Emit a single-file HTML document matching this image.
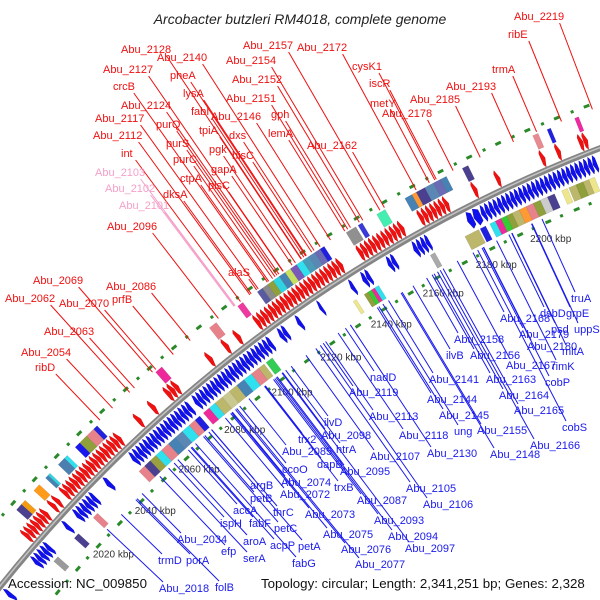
<!DOCTYPE html>
<html><head><meta charset="utf-8"><style>
html,body{margin:0;padding:0;background:#fff;width:600px;height:600px;overflow:hidden;}
svg{display:block;font-family:"Liberation Sans","DejaVu Sans",sans-serif;}
</style></head><body>
<svg id="chart" width="600" height="600" viewBox="0 0 600 600">
<defs><clipPath id="clip"><rect x="0" y="0" width="600" height="600"/></clipPath></defs>
<g id="map" clip-path="url(#clip)"></g>
<text x="300" y="24" text-anchor="middle" font-size="14" font-style="italic" fill="#222">Arcobacter butzleri RM4018, complete genome</text>
<text x="8" y="588" font-size="13.3" fill="#111">Accession: NC_009850</text>
<text x="261" y="588" font-size="13.3" fill="#111">Topology: circular; Length: 2,341,251 bp; Genes: 2,328</text>
</svg>
<script>
const tickKbp = [2020, 2040, 2060, 2080, 2100, 2120, 2140, 2160, 2180, 2200];
const fwdGenes = [[2005,2006.3],[2006.5,2007.8],[2008,2009.3],[2009.5,2010.8],[2011,2012.3],[2012.5,2013.8],[2014,2015.3],[2017.5,2018.8],[2019.5,2020.8],
[2023,2024.3],[2024.5,2025.8],[2026,2027.3],[2027.5,2028.8],[2029,2030.3],[2030.5,2031.8],[2032,2033.3],[2033.5,2034.8],[2035,2036.3],[2036.5,2037.8],[2038,2039.3],[2039.5,2040.8],[2041,2042.3],[2042.5,2043.8],[2044,2045.3],[2045.5,2046.8],[2047,2048.3],
[2055.5,2056.9],[2061.5,2062.9],[2068,2069.4],[2069.6,2071],[2071.2,2072.6],[2085,2086.4],[2091.5,2092.9],[2096.2,2097.6],
[2104,2105.3],[2105.5,2106.8],[2107,2108.3],[2108.5,2109.8],[2110,2111.3],[2111.5,2112.8],[2113,2114.3],[2114.5,2115.8],[2116,2117.3],[2117.5,2118.8],[2119,2120.3],[2120.5,2121.8],[2122,2123.3],[2123.5,2124.8],[2125,2126.3],[2126.5,2127.8],[2128,2129.3],[2129.5,2130.8],[2131,2132.3],[2132.5,2133.8],[2134,2135.3],[2135.5,2136.8],
[2143,2144.3],[2144.5,2145.8],[2146,2147.3],[2147.5,2148.8],[2149,2150.3],[2150.5,2151.8],[2152,2153.3],[2153.5,2154.8],[2155,2156.3],[2156.5,2157.8],[2158,2159.3],
[2165,2166.3],[2166.5,2167.8],[2168,2169.3],[2169.5,2170.8],[2171,2172.3],[2172.5,2173.8],[2174,2175.3],
[2184,2185.3],[2192,2193.3],[2207.5,2208.8],[2212.8,2214.1],[2220.5,2221.8],[2222,2223.3]];
const revGenes = [[1987,1988.4],[2000.5,2001.8],[2002,2003.3],[2003.5,2004.8],[2005,2006.3],[2006.5,2007.8],[2015.5,2016.8],
[2020.5,2021.8],[2022,2023.3],[2023.5,2024.8],[2025,2026.3],[2026.5,2027.8],[2028,2029.3],[2034.5,2036],
[2046,2047.3],[2047.5,2048.8],[2049,2050.3],[2050.5,2051.8],[2052,2053.3],[2053.5,2054.8],[2055,2056.3],[2056.5,2057.8],[2058,2059.3],[2059.5,2060.8],[2061,2062.3],[2062.5,2063.8],[2064,2065.3],[2065.5,2066.8],[2067,2068.3],[2068.5,2069.8],[2070,2071.3],
[2073,2074.3],[2074.5,2075.8],[2076,2077.3],[2077.5,2078.8],[2079,2080.3],[2080.5,2081.8],[2082,2083.3],[2083.5,2084.8],[2085,2086.3],[2086.5,2087.8],[2088,2089.3],[2089.5,2090.8],[2091,2092.3],[2092.5,2093.8],[2094,2095.3],[2095.5,2096.8],[2097,2098.3],[2098.5,2099.8],[2100,2101.3],[2101.5,2102.8],[2103,2104.3],
[2107.5,2108.8],[2109,2110.3],[2114.5,2115.8],[2123,2124],[2135,2136.2],[2139.5,2140.8],[2141,2142.3],[2149,2150.3],[2150.5,2151.8],[2158.5,2159.8],[2160,2161.3],[2161.5,2162.8],[2163,2164.2],
[2178,2180],[2180.3,2182.6],[2183,2184.3],[2184.5,2185.8],[2186,2187.3],[2187.5,2188.8],[2189,2190.3],[2190.5,2191.8],[2192,2193.3],[2193.5,2194.8],[2195,2196.3],[2196.5,2197.8],[2198,2199.3],[2199.5,2200.8],[2201,2202.3],[2202.5,2203.8],[2204,2205.3],[2205.5,2206.8],[2207,2208.3],[2208.5,2209.8],[2210,2211.3],[2211.5,2212.8],[2213,2214.3],[2214.5,2215.8],[2216,2217.3],[2217.5,2218.8],[2219,2220.3],[2220.5,2221.8],[2222,2223.3]];
const cogOutBoxes = [[2009.5,2011.8],[2011.8,2013.5],[2017.5,2020],[2022.8,2024],[2024,2024.8],[2028.5,2031.3],[2031.3,2032.5],[2036,2038],[2038,2041],[2041,2044],[2044,2045.5],[2070,2072.5],[2091.5,2094.2],[2102.5,2104.5],
[2110,2112],[2112,2114],[2114,2116],[2116,2118.3],[2118.3,2120.5],[2120.5,2122.5],[2122.5,2124.8],[2124.8,2127],[2127,2129.3],[2129.3,2131.5],[2131.5,2133.5],[2133.5,2135],
[2143,2146.5],[2147.3,2148.8],[2154,2157],[2164,2166.5],[2166.5,2168],[2168,2171],[2171,2174],[2174,2176.5],[2176.5,2178.5],[2184,2186],[2208,2209.8],[2212.8,2214],[2222,2223.3]];
const cogOutColor = ["#4b3f8f","#f39c12","#ff9a1a","#4682b4","#2fd4e0","#4a7fb0","#2fe0ee","#1818ee","#8fa03a","#e8828a","#2222dd","#ee2a9a","#e8828a","#ee3aa0",
"#5a5aa0","#8a8a8a","#8fa03a","#2fd4e0","#4682b4","#c8e060","#7a5ab8","#2fe0ee","#4a9ab8","#5b87b5","#6a6ab5","#2020e0",
"#909090","#3a3ad8","#44eeb0","#4682b4","#ff9933","#4b3f8f","#5b87b5","#6a6ab5","#4682b4","#4b3f8f","#e88a90","#2020e0","#ee2aa0"];
const cogInBoxes = [[2005,2007],[2015,2017],[2024,2026],[2045,2047.5],[2047.5,2050],[2050,2052.5],[2052.5,2055],[2055,2058],[2058,2061],[2061,2064],[2064,2067],[2067,2069.5],[2069.5,2071.5],
[2073,2075.5],[2075.5,2078],[2078,2081],[2081,2084],[2084,2087],[2087,2090],[2090,2093],[2093,2096],[2096,2098.2],[2099,2101.5],[2133.3,2134.5],[2137.5,2139],[2139,2140.3],[2140.3,2141.5],[2141.5,2143],[2162.3,2164],
[2175,2180],[2180.5,2182.5],[2184,2186],[2186,2188],[2188,2190],[2190,2192],[2192,2194.5],[2194.5,2197],[2197,2199.5],[2199.5,2202],[2202,2204.5],[2204.5,2207],[2209.5,2211.5],[2212,2214.5],[2214.5,2217],[2217,2219],[2219,2221]];
const cogInColor = ["#9a9a9a","#4b3f8f","#e8828a","#e8828a","#4b3f8f","#9aa040","#2fe0ee","#e8828a","#4682b4","#5b87b5","#2fe0ee","#e8828a","#2020e0",
"#ee2a9a","#2fe0ee","#bdb76b","#c8c890","#bdb76b","#4682b4","#2fe0ee","#e8828a","#bdb76b","#33cc55","#eee68c","#8fa03a","#33cc33","#ee2a9a","#2fe0ee","#aaaaaa",
"#bdb76b","#2020e0","#2fe0ee","#ee2a9a","#33cc33","#8fa03a","#bdb76b","#ff9933","#e8828a","#8fa03a","#cccccc","#4b3f8f","#eee68c","#bdb76b","#8fa03a","#bdb76b","#eee68c"];

const outerLabelText = ["Abu_2219","ribE","Abu_2172","Abu_2157","cysK1","Abu_2154","Abu_2128","Abu_2140","trmA","Abu_2193","Abu_2127","pheA","Abu_2152","iscR","crcB","lysA","Abu_2151","Abu_2185","metY","gph","fabI","Abu_2146","Abu_2124","Abu_2178","purQ","Abu_2117","tpiA","dxs","lemA","Abu_2112","purS","pgk","hisC","Abu_2162","int","gapA","purC","Abu_2103","ctpA","plsC","Abu_2102","dksA","Abu_2101","Abu_2096","alaS","Abu_2069","Abu_2086","Abu_2062","prfB","Abu_2070","Abu_2063","Abu_2054","ribD"];
const outerLabelLayout = [[514,20],[508,38],[297,51],[243,49],[352,70],[226,64],[121,53],[157,61],[492,73],[446,90],[103,73],[170,79],[232,83],[369,87],[113,90],[183,97],[226,102],[410,103],[370,107],[271,118],[191,115],[211,120],[121,109],[382,117],[156,128],[95,122],[199,134],[229,139],[268,137],[93,139],[166,147],[209,153],[232,159],[307,149],[121,157],[211,173],[173,163],[95,176],[180,182],[208,189],[105,192],[163,198],[119,209],[107,230],[228,276],[33,284],[106,290],[5,302],[112,303],[59,307],[44,335],[21,356],[35,371]];
const pinkLabels = ["Abu_2103","Abu_2102","Abu_2101"];
const innerLabelText = ["truA","grpE","dsbD","psd","uppS","Abu_2168","Abu_2179","Abu_2158","mltA","Abu_2180","ilvB","Abu_2156","rimK","nadD","Abu_2167","Abu_2141","cobP","Abu_2163","Abu_2119","Abu_2164","Abu_2144","Abu_2165","ilvD","Abu_2113","Abu_2145","cobS","Abu_2098","Abu_2118","ung","Abu_2155","trx2","htrA","Abu_2166","Abu_2085","Abu_2130","Abu_2148","Abu_2107","dapB","ccoO","Abu_2095","argB","trxB","Abu_2074","Abu_2105","petB","Abu_2072","Abu_2087","Abu_2106","accA","thrC","Abu_2073","Abu_2093","ispH","fabF","petC","Abu_2075","Abu_2094","Abu_2034","efp","aroA","acpP","petA","Abu_2076","Abu_2097","trmD","porA","serA","fabG","Abu_2077","Abu_2018","folB"];
const innerLabelLayout = [[571,302],[566,317],[540,317],[551,333],[574,333],[500,322],[519,338],[454,343],[562,355],[527,350],[446,359],[470,359],[552,370],[370,381],[506,369],[429,383],[545,386],[486,383],[349,396],[499,399],[427,403],[514,414],[324,426],[369,420],[439,419],[562,431],[321,439],[399,439],[454,435],[477,434],[298,443],[336,453],[530,449],[282,455],[427,457],[490,458],[370,460],[317,468],[282,473],[340,475],[250,489],[334,491],[281,486],[406,492],[250,502],[280,498],[357,504],[423,508],[233,514],[273,516],[305,518],[374,524],[220,527],[249,527],[274,532],[323,538],[388,540],[177,543],[221,555],[243,545],[270,549],[298,550],[341,553],[405,552],[158,564],[186,564],[243,562],[292,567],[355,568],[159,592],[215,591]];

const CX = 1112, CY = 1478, R = 1425;
const THETA0 = -47.2, DEG_PER_KBP = 0.1269, REF_KBP = 2020;
const NS = "http://www.w3.org/2000/svg";
const map = document.getElementById('map');
function ang(kbp){ return (THETA0 + DEG_PER_KBP*(kbp-REF_KBP))*Math.PI/180; }
function pt(r,kbp){ const a=ang(kbp); return [CX+r*Math.sin(a), CY-r*Math.cos(a)]; }
function f(p){ return p[0].toFixed(2)+","+p[1].toFixed(2); }
function mk(tag, attrs, parent){ const e=document.createElementNS(NS,tag); for(const k in attrs) e.setAttribute(k,attrs[k]); (parent||map).appendChild(e); return e; }
function sector(r1,r2,a,b){
  return "M"+f(pt(r2,a))+" A"+r2+" "+r2+" 0 0 1 "+f(pt(r2,b))+" L"+f(pt(r1,b))+" A"+r1+" "+r1+" 0 0 0 "+f(pt(r1,a))+"Z";
}
function arrow(r1,r2,a,b,forward){
  const len=b-a, h=Math.min(0.8,len*0.6), rm=(r1+r2)/2;
  if(forward){
    return "M"+f(pt(r2,a))+" A"+r2+" "+r2+" 0 0 1 "+f(pt(r2+3,b-h))+" L"+f(pt(rm,b))+" L"+f(pt(r1-3,b-h))+" A"+r1+" "+r1+" 0 0 0 "+f(pt(r1,a))+"Z";
  }
  return "M"+f(pt(rm,a))+" L"+f(pt(r2+3,a+h))+" A"+r2+" "+r2+" 0 0 1 "+f(pt(r2,b))+" L"+f(pt(r1,b))+" A"+r1+" "+r1+" 0 0 0 "+f(pt(r1-3,a+h))+"Z";
}

const ringOut = mk('circle',{cx:CX,cy:CY,r:1469,fill:'none',stroke:'#2a8a2a','stroke-width':3,'stroke-dasharray':'3 11 6 12'});


const ringIn = mk('circle',{cx:CX,cy:CY,r:1377,fill:'none',stroke:'#2a8a2a','stroke-width':3,'stroke-dasharray':'3 12 6 10'});



const bb = mk('circle',{cx:CX,cy:CY,r:R,fill:'none',stroke:'#858585','stroke-width':6});


const bb2 = mk('circle',{cx:CX,cy:CY,r:R+0.5,fill:'none',stroke:'#c4c4c4','stroke-width':1.5});



for(let i=0;i<fwdGenes.length;i++){
  const p = mk('path',{d:arrow(1431,1443,fwdGenes[i][0],fwdGenes[i][1],true),fill:'#f01010',stroke:'#c00000','stroke-width':0.4});
  
  
}
for(let i=0;i<revGenes.length;i++){
  const p = mk('path',{d:arrow(1406,1418,revGenes[i][0],revGenes[i][1],false),fill:'#1010ee',stroke:'#0000b0','stroke-width':0.4});
  
  
}
for(let i=0;i<cogOutBoxes.length;i++){
  const p = mk('path',{d:sector(1447,1462,cogOutBoxes[i][0],cogOutBoxes[i][1]),fill:cogOutColor[i],stroke:'rgba(0,0,0,0.15)','stroke-width':0.5});
  
  
}
for(let i=0;i<cogInBoxes.length;i++){
  const p = mk('path',{d:sector(1385,1400,cogInBoxes[i][0],cogInBoxes[i][1]),fill:cogInColor[i],stroke:'rgba(0,0,0,0.15)','stroke-width':0.5});
  
  
}

for(let i=0;i<tickKbp.length;i++){
  const p = pt(1361,tickKbp[i]);
  const t = mk('text',{x:p[0].toFixed(1),y:(p[1]+4).toFixed(1),'text-anchor':'middle','font-size':10,fill:'#333'});
  t.textContent = tickKbp[i]+" kbp";
  
  
}

function labelLine(ax,ay,target,color){
  const dx=CX-ax, dy=CY-ay, d=Math.hypot(dx,dy), ux=dx/d, uy=dy/d, s=d-target;
  const l = mk('line',{x1:ax.toFixed(1),y1:ay.toFixed(1),x2:(ax+ux*s).toFixed(1),y2:(ay+uy*s).toFixed(1),stroke:color,'stroke-width':1});
  
  
}
for(let i=0;i<outerLabelText.length;i++){
  const [x,y]=outerLabelLayout[i];
  const color = pinkLabels.includes(outerLabelText[i]) ? '#f5a0c8' : '#ee1010';
  const w = outerLabelText[i].length*6.2;
  labelLine(x+w-4,y+3,1464,color);
  const t = mk('text',{x:x,y:y,'font-size':11,fill:color});
  t.textContent = outerLabelText[i];
  
  
}
for(let i=0;i<innerLabelText.length;i++){
  const [x,y]=innerLabelLayout[i];
  labelLine(x+4,y-10,1382,'#1a1aee');
  const t = mk('text',{x:x,y:y,'font-size':11,fill:'#1a1aee'});
  t.textContent = innerLabelText[i];
  
  
}
</script>
</body></html>
